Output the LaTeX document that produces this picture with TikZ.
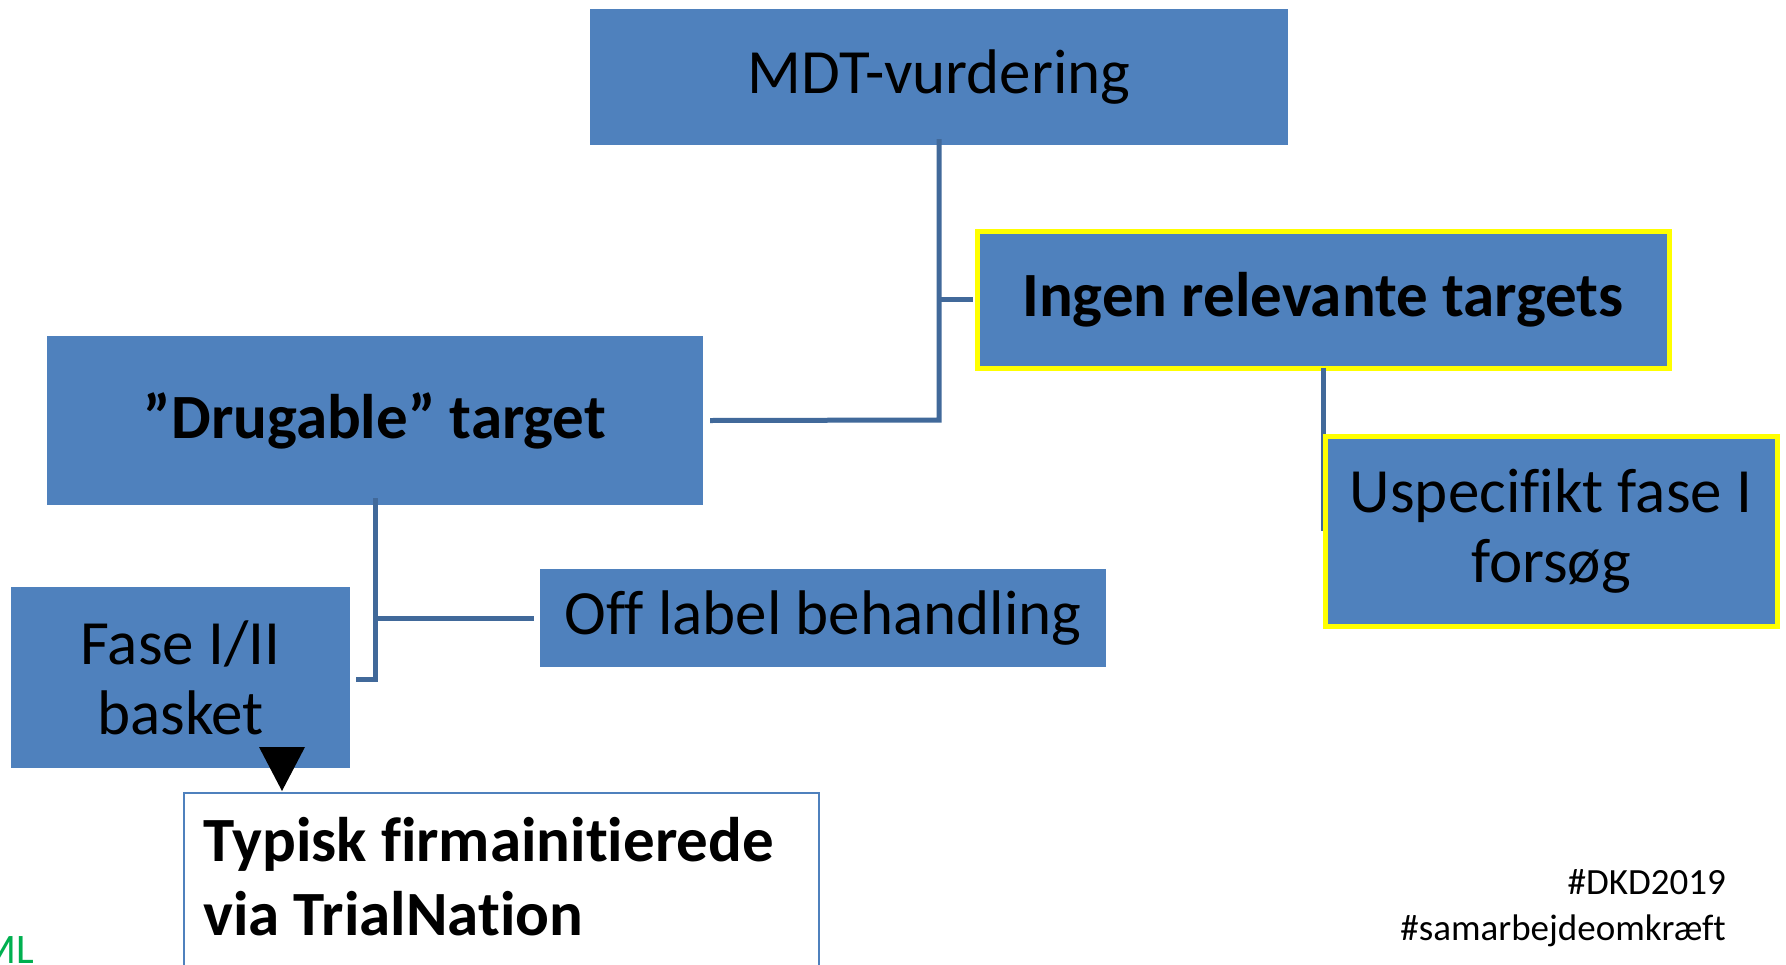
\documentclass[tikz,border=0pt]{standalone}
\usepackage{fontspec}
\setmainfont{Carlito}[RawFeature={-liga;-clig;-dlig}]
\definecolor{boxblue}{RGB}{79,129,189}
\definecolor{lineblue}{RGB}{65,105,154}
\definecolor{hlyellow}{RGB}{255,255,0}
\definecolor{mlgreen}{RGB}{0,176,80}
\tikzset{
  bluebox/.style={fill=boxblue, draw=none, inner sep=0pt, align=center, font=\fontsize{63}{70}\selectfont},
  yellowbox/.style={bluebox, draw=hlyellow, line width=5pt},
  conn/.style={draw=lineblue, line width=5pt},
  whitebox/.style={draw=boxblue, line width=2pt, fill=white, inner sep=0pt}
}
\begin{document}
\begin{tikzpicture}[x=1pt,y=-1pt]
\useasboundingbox (0,0) rectangle (1786,964);
\clip (0,0) rectangle (1786,964);
\fill[white] (0,0) rectangle (1786,964);

% boxes
\node[bluebox, minimum width=698pt, minimum height=136pt] (mdt) at (939,77) {MDT-vurdering};
\node[yellowbox, minimum width=692pt, minimum height=137pt, font=\fontsize{63}{70}\selectfont\bfseries] (ingen) at (1323,299.5) {Ingen relevante targets};
\node[bluebox, minimum width=656pt, minimum height=169pt, font=\fontsize{63}{70}\selectfont\bfseries] (drug) at (375,420.5) {”Drugable” target};
\node[bluebox, minimum width=566pt, minimum height=98pt] (off) at (823,618) {Of{}f label behandling};
\node[bluebox, minimum width=339pt, minimum height=181pt] (fase) at (180.5,677.5) {Fase I/II\\basket};

% connectors
\draw[conn] ([yshift=6pt]mdt.south) -- (939,420) -- ([xshift=7pt]drug.east);
\draw[conn] (939,299.5) -- ([xshift=-2pt]ingen.west);
\draw[conn] ([yshift=3pt]ingen.south) -- (1323,531);
\draw[conn] ([yshift=7pt]drug.south) -- (375,679) -- (356,679);
\draw[conn] (375,618) -- ([xshift=-6pt]off.west);

\node[yellowbox, minimum width=452pt, minimum height=190pt] (usp) at (1551,531) {Uspecif{}ikt fase I\\forsøg};

% bottom white box
\node[whitebox, anchor=north west, minimum width=635pt, minimum height=220pt] (typ) at (183,792) {};
\node[anchor=north west, inner sep=0pt, align=left, font=\fontsize{63}{74}\selectfont\bfseries] (typtext) at (203,817) {Typisk f{}irmainitierede\\via TrialNation};

% arrow head
\coordinate (tip) at (282,791);
\fill[black] (259,747) -- (305,747) -- (tip) -- cycle;

% hashtags
\node[anchor=north east, inner sep=0pt, align=right, font=\fontsize{37}{46}\selectfont] (tags) at (1726,869) {\#DKD2019\\\#samarbejdeomkræf{}t};

% green fragment
\node[anchor=base west, inner sep=0pt, text=mlgreen, font=\fontsize{42}{50}\selectfont] (ml) at (-20,963) {ML};
\end{tikzpicture}
\end{document}
